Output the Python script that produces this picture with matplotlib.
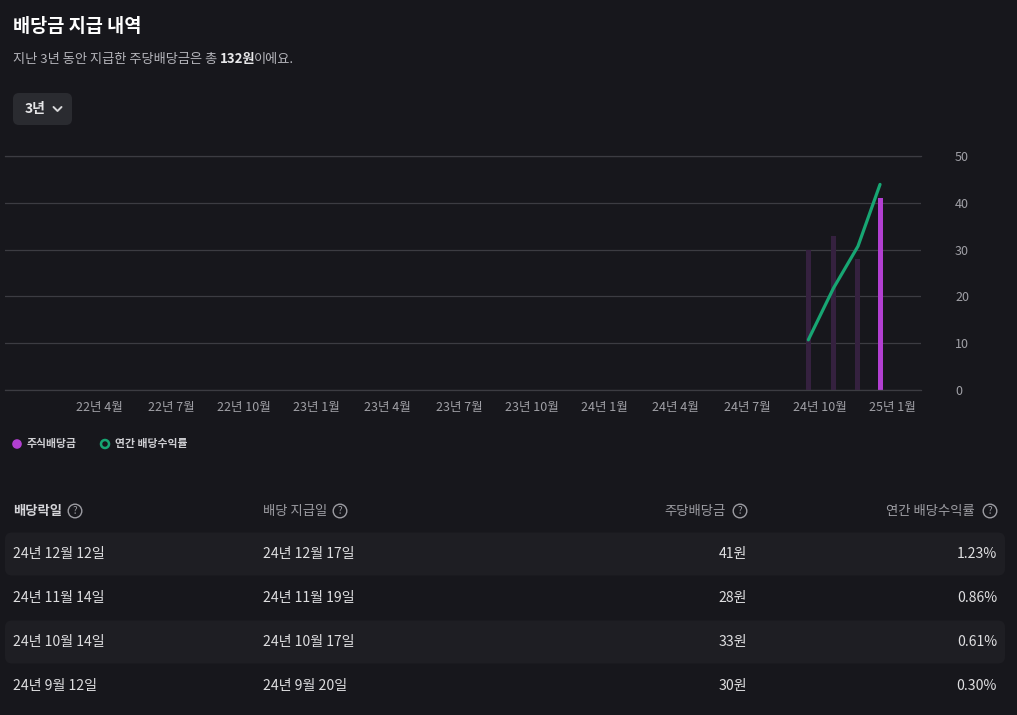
import matplotlib
matplotlib.use("Agg")
import matplotlib.pyplot as plt
import matplotlib.dates as mdates
from matplotlib.patches import FancyBboxPatch, Circle
from matplotlib.transforms import ScaledTranslation
import pandas as pd

plt.rcParams['font.family'] = ['Noto Sans CJK KR', 'DejaVu Sans']

# dividend history (ex-dividend date, payment date, per-share dividend, yield)
ex_dates = ["2024-09-12", "2024-10-14", "2024-11-14", "2024-12-12"]
pay_dates = ["2024-09-20", "2024-10-17", "2024-11-19", "2024-12-17"]
dividend = [30, 33, 28, 41]
yield_pct = [0.30, 0.61, 0.86, 1.23]
y_ticks = [0, 10, 20, 30, 40, 50]

BG = '#17171c'
BAND = '#1e1e23'
GRID = '#3c3c42'
TICK = '#a0a0a6'
PURPLE = '#b23fd1'
PURPLE_DIM = '#35213f'
GREEN = '#17a673'
TXT = '#dedee0'
HEAD = '#9c9ca2'

W, H = 1017, 715
fig = plt.figure(figsize=(W / 100, H / 100), dpi=100, facecolor=BG)

# full-figure layer in pixel units for the page elements
bg = fig.add_axes([0, 0, 1, 1], zorder=0)
bg.set_xlim(0, W)
bg.set_ylim(H, 0)
bg.axis('off')

# ---- header ----
bg.text(13, 26, "배당금 지급 내역", color='white', fontsize=13.4, fontweight='bold', va='center')
t1 = bg.text(13, 59, "지난 3년 동안 지급한 주당배당금은 총 ", color='#b4b4ba', fontsize=9.5, va='center')
t2 = bg.annotate("132원", xy=(1, 0), xycoords=t1, color='#e8e8ea', fontsize=9.5,
                 fontweight='bold', va='bottom')
bg.annotate("이에요.", xy=(1, 0), xycoords=t2, xytext=(-1.5, 0), textcoords='offset pixels',
            color='#b4b4ba', fontsize=9.5, va='bottom')

bg.add_patch(FancyBboxPatch((13, 93), 59, 32, boxstyle='round,pad=0,rounding_size=6',
                            fc='#2a2b30', ec='none'))
bg.text(25, 108.5, "3년", color='#e6e6e8', fontsize=10, fontweight='bold', va='center')
bg.plot([53.5, 57.5, 61.5], [107, 111, 107], color='#d8d8da', lw=1.4, solid_capstyle='round')

# ---- chart ----
ax = fig.add_axes([5 / W, (H - 390) / H, (921 - 5) / W, (390 - 156) / H], zorder=1)
ax.set_facecolor('none')

ex = pd.to_datetime(ex_dates)
bar_colors = [PURPLE_DIM] * (len(dividend) - 1) + [PURPLE]
ax.bar(ex, dividend, width=6.3, color=bar_colors, zorder=2)
ax.set_ylim(0, 50)
ax.set_yticks(y_ticks)
ax.grid(axis='y', color=GRID, lw=0.9)
ax.set_axisbelow(True)
for s in ['left', 'right']:
    ax.spines[s].set_visible(False)
for s in ['top', 'bottom']:
    ax.spines[s].set_color(GRID)
    ax.spines[s].set_linewidth(0.9)

ax.set_xlim(mdates.date2num(pd.Timestamp("2021-11-27 12:00")),
            mdates.date2num(pd.Timestamp("2025-02-02")))
months = pd.date_range("2022-04-01", "2025-01-01", freq="3MS")
ax.set_xticks(months)
ax.set_xticklabels([f"{d.year % 100}년 {d.month}월" for d in months])
ax.tick_params(axis='x', length=0, pad=8, labelsize=9, labelcolor=TICK)
shift = ScaledTranslation(-3.5 / 100, 0, fig.dpi_scale_trans)
for lab in ax.get_xticklabels():
    lab.set_transform(lab.get_transform() + shift)

ax2 = ax.twinx()
ax2.set_ylim(0, 1.4)
ax2.plot(ex, yield_pct, color=GREEN, lw=2.3, solid_capstyle='round', zorder=3)
ax2.axis('off')

# twinx moves the first axis' ticks to the left, so put them back on the right
ax.yaxis.tick_right()
ax.tick_params(axis='y', length=0, pad=24.5, labelsize=9, labelcolor=TICK)

# ---- legend ----
bg.add_patch(Circle((17, 444), 4.8, fc=PURPLE, ec='none'))
bg.text(27, 444, "주식배당금", color='#cfcfd3', fontsize=7.8, fontweight='bold', va='center')
bg.add_patch(Circle((105, 444), 4.0, fc='none', ec=GREEN, lw=1.8))
bg.text(115, 444, "연간 배당수익률", color='#cfcfd3', fontsize=7.8, fontweight='bold', va='center')

# ---- table ----
def help_icon(x, y):
    bg.add_patch(Circle((x, y), 6.8, fc='none', ec=HEAD, lw=1.0))
    bg.text(x, y + 0.5, "?", color=HEAD, fontsize=7, ha='center', va='center')

hy = 511
bg.text(13, hy, "배당락일", color='#d4d4d8', fontsize=9.6, fontweight='bold', va='center')
help_icon(75, hy)
bg.text(263, hy, "배당 지급일", color=HEAD, fontsize=9.6, va='center')
help_icon(340, hy)
bg.text(726, hy, "주당배당금", color=HEAD, fontsize=9.6, ha='right', va='center')
help_icon(740, hy)
bg.text(975, hy, "연간 배당수익률", color=HEAD, fontsize=9.6, ha='right', va='center')
help_icon(990, hy)


def kdate(s):
    d = pd.Timestamp(s)
    return f"{d.year % 100}년 {d.month}월 {d.day}일"


row_y = [554, 598, 642, 686]
for i, k in enumerate(reversed(range(len(dividend)))):
    y = row_y[i]
    if i % 2 == 0:
        bg.add_patch(FancyBboxPatch((5, y - 21.5), 1000, 43,
                                    boxstyle='round,pad=0,rounding_size=7',
                                    fc=BAND, ec='none'))
    bg.text(13, y, kdate(ex_dates[k]), color=TXT, fontsize=10.1, fontweight='medium', va='center')
    bg.text(263, y, kdate(pay_dates[k]), color=TXT, fontsize=10.1, fontweight='medium', va='center')
    bg.text(747, y, f"{dividend[k]}원", color=TXT, fontsize=10.1, fontweight='medium',
            ha='right', va='center')
    bg.text(997, y, f"{yield_pct[k]:.2f}%", color=TXT, fontsize=10.1, fontweight='medium',
            ha='right', va='center')

fig.savefig("out.png", dpi=100, facecolor=BG)
